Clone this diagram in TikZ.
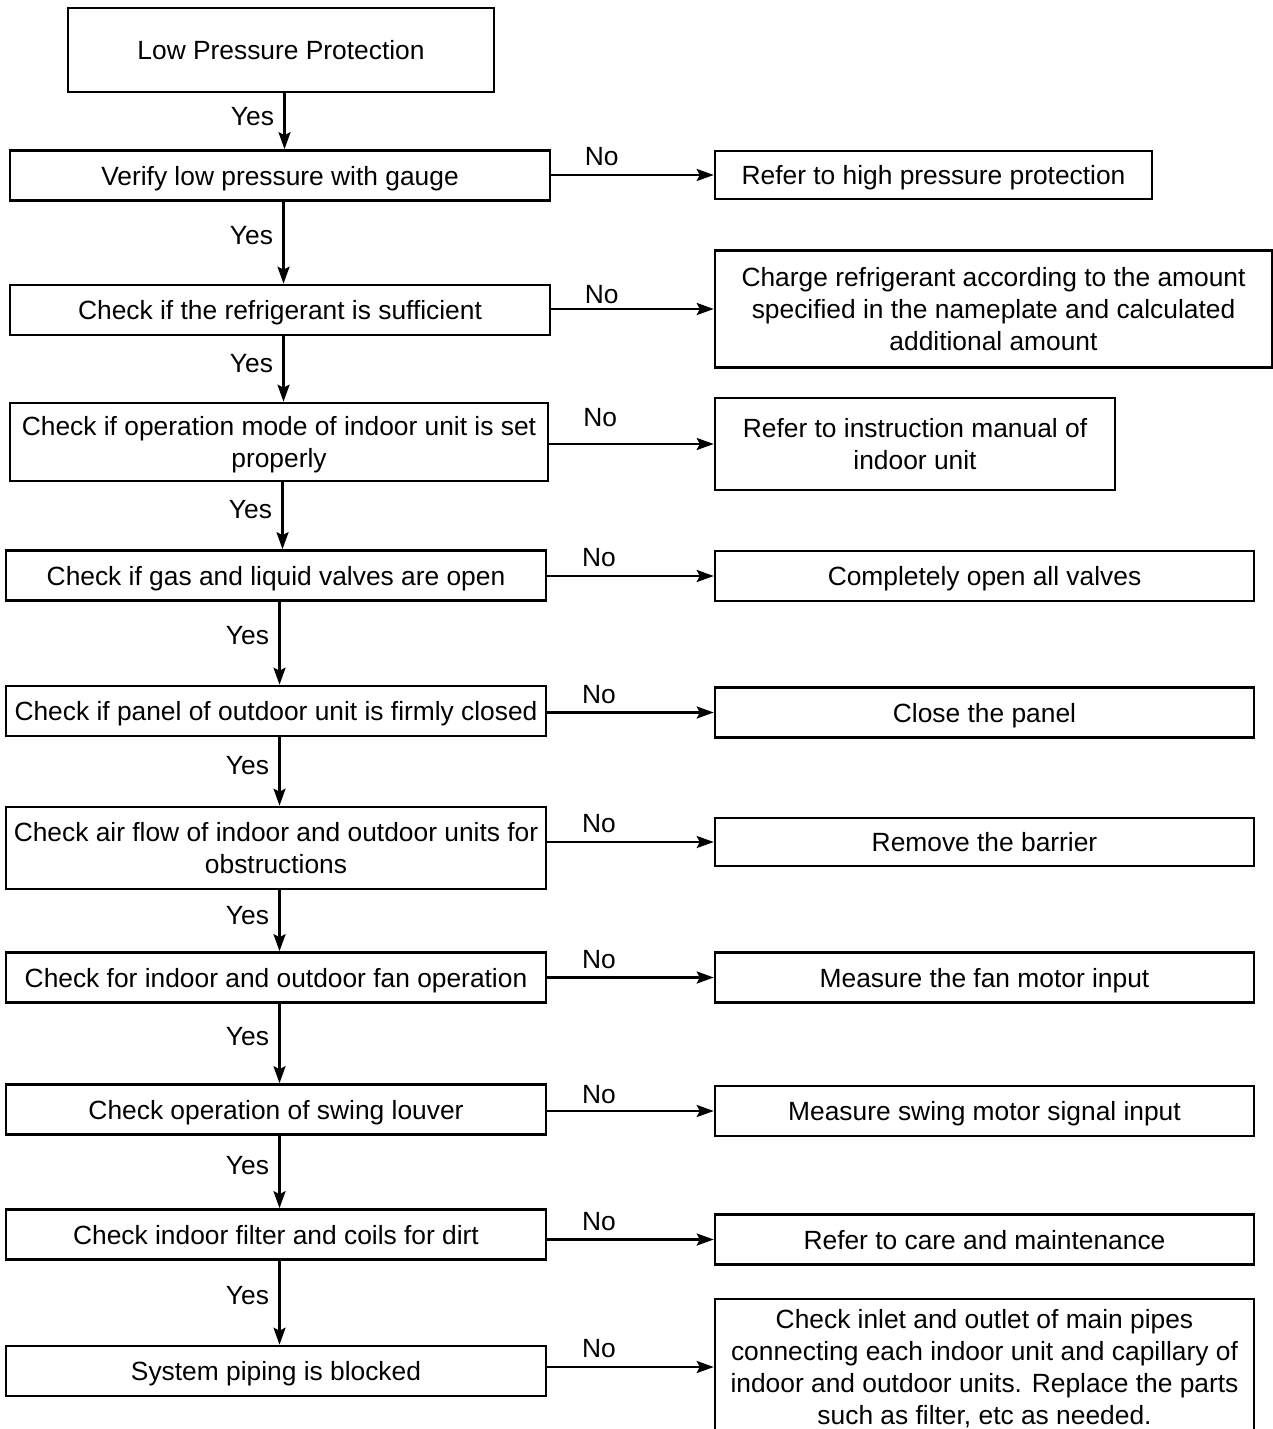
\documentclass[tikz,border=0pt]{standalone}
\usepackage{fontspec}
\setmainfont{Liberation Sans}
\usetikzlibrary{arrows.meta, positioning}

\begin{document}
\begin{tikzpicture}[x=0.02cm, y=-0.02cm,
        block/.style={rectangle, draw, line width=1.5pt, align=center, inner sep=1pt, text depth=0pt, font=\fontsize{15}{18.2}\selectfont, minimum width=10.8cm, minimum height=1cm},
        sideblock/.style={block, minimum width=10.78cm},
        arrow/.style={-{Stealth[length=0.34cm, width=0.24cm, inset=0.06cm]}, line width=1.4pt},
        lbl/.style={font=\fontsize{15}{18.2}\selectfont}
    ]
        \useasboundingbox (0,0) rectangle (1272,1429);

        % Main column
        \node[block, minimum width=8.52cm, minimum height=1.68cm] (start) at (281,50) {Low Pressure Protection};
        \node[block] (gauge) at (280,175.5) {Verify low pressure with gauge};
        \node[block] (refr) at (280,310) {Check if the refrigerant is sufficient};
        \node[block, minimum width=10.76cm, minimum height=1.56cm] (mode) at (279,442) {Check if operation mode of indoor unit is set\\properly};
        \node[block] (valves) at (276,575.5) {Check if gas and liquid valves are open};
        \node[block] (panel) at (276,711) {Check if panel of outdoor unit is firmly closed};
        \node[block, minimum height=1.64cm] (air) at (276,848) {Check air flow of indoor and outdoor units for\\obstructions};
        \node[block] (fan) at (276,977.5) {Check for indoor and outdoor fan operation};
        \node[block] (swing) at (276,1109.5) {Check operation of swing louver};
        \node[block] (filter) at (276,1234.5) {Check indoor filter and coils for dirt};
        \node[block] (piping) at (276,1371) {System piping is blocked};

        % Right column
        \node[sideblock, minimum width=8.74cm, minimum height=0.96cm] (high) at (933.5,175) {Refer to high pressure protection};
        \node[sideblock, minimum width=11.14cm, minimum height=2.34cm] (charge) at (993.5,309) {Charge refrigerant according to the amount\\specified in the nameplate and calculated\\additional amount};
        \node[sideblock, minimum width=8cm, minimum height=1.84cm] (manual) at (915,444) {Refer to instruction manual of\\indoor unit};
        \node[sideblock] (open) at (984.5,576) {Completely open all valves};
        \node[sideblock] (close) at (984.5,712.5) {Close the panel};
        \node[sideblock, minimum height=0.96cm] (barrier) at (984.5,842) {Remove the barrier};
        \node[sideblock] (fanmotor) at (984.5,977.5) {Measure the fan motor input};
        \node[sideblock] (swingmotor) at (984.5,1111) {Measure swing motor signal input};
        \node[sideblock] (care) at (984.5,1239.5) {Refer to care and maintenance};
        \node[sideblock, minimum height=2.72cm] (pipes) at (984.5,1367) {Check inlet and outlet of main pipes\\connecting each indoor unit and capillary of\\indoor and outdoor units. Replace the parts\\such as filter, etc as needed.};

        % Yes arrows
        \foreach \a/\b in {start/gauge, gauge/refr, refr/mode, mode/valves, valves/panel, panel/air, air/fan, fan/swing, swing/filter, filter/piping}
            \draw[arrow] ([xshift=2pt]\a.south) -- node[lbl, left=2pt, pos=0.41] {Yes} ([xshift=2pt]\a.south |- \b.north);

        % No arrows
        \foreach \a/\b/\r in {gauge/high/1pt, refr/charge/-1pt, mode/manual/6pt, valves/open/1pt, panel/close/1pt, air/barrier/1pt, fan/fanmotor/1pt, swing/swingmotor/0pt, filter/care/1pt, piping/pipes/1pt}
            \draw[arrow] (\b.west -| \a.east) -- node[lbl, pos=0.31, above=\r] {No} (\b.west);
    \end{tikzpicture}
\end{document}
